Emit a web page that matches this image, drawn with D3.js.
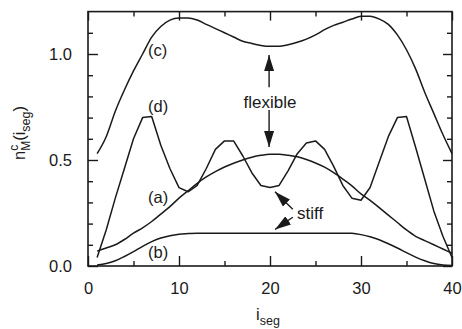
<!DOCTYPE html>
<html>
<head>
<meta charset="utf-8">
<script src="https://cdn.jsdelivr.net/npm/d3@7"></script>
<style>
  html, body { margin: 0; padding: 0; background: #fff; }
  svg { display: block; font-family: "Liberation Sans", Arial, Helvetica, sans-serif; }
  .tick text { font-size: 16.5px; fill: #1a1a1a; }
  .tick line { stroke: #1a1a1a; stroke-width: 1.4; }
</style>
</head>
<body>
<svg id="chart" width="462" height="329"></svg>
<script>
// Segment index along the chain
const iSeg = [1, 2, 3, 4, 5, 6, 7, 8, 9, 10,
              11, 12, 13, 14, 15, 16, 17, 18, 19, 20,
              21, 22, 23, 24, 25, 26, 27, 28, 29, 30,
              31, 32, 33, 34, 35, 36, 37, 38, 39, 40];

// (a) stiff chain
const curveA = [0.070, 0.085, 0.100, 0.125, 0.155, 0.180, 0.210, 0.245, 0.280, 0.320,
                0.355, 0.390, 0.420, 0.445, 0.467, 0.485, 0.500, 0.513, 0.522, 0.527,
                0.527, 0.522, 0.515, 0.502, 0.486, 0.466, 0.440, 0.410, 0.378, 0.340,
                0.310, 0.275, 0.240, 0.205, 0.170, 0.140, 0.120, 0.100, 0.080, 0.060];

// (b) stiff chain
const curveB = [0.005, 0.012, 0.025, 0.045, 0.068, 0.093, 0.115, 0.132, 0.143, 0.150,
                0.153, 0.155, 0.155, 0.155, 0.155, 0.155, 0.155, 0.155, 0.155, 0.155,
                0.155, 0.155, 0.155, 0.155, 0.155, 0.155, 0.155, 0.155, 0.154, 0.148,
                0.138, 0.124, 0.105, 0.085, 0.063, 0.042, 0.025, 0.012, 0.005, 0.002];

// (c) flexible chain
const curveC = [0.530, 0.610, 0.730, 0.830, 0.920, 1.000, 1.080, 1.130, 1.160, 1.170,
                1.170, 1.160, 1.140, 1.120, 1.100, 1.080, 1.060, 1.050, 1.040, 1.036,
                1.036, 1.044, 1.055, 1.070, 1.090, 1.115, 1.135, 1.150, 1.165, 1.178,
                1.178, 1.165, 1.140, 1.090, 1.020, 0.930, 0.820, 0.720, 0.620, 0.530];

// (d) flexible chain
const curveD = [0.040, 0.170, 0.320, 0.460, 0.600, 0.700, 0.705, 0.570, 0.460, 0.370,
                0.350, 0.380, 0.460, 0.550, 0.590, 0.590, 0.520, 0.440, 0.380, 0.370,
                0.380, 0.450, 0.530, 0.580, 0.590, 0.550, 0.470, 0.380, 0.320, 0.310,
                0.370, 0.490, 0.610, 0.700, 0.705, 0.560, 0.410, 0.260, 0.140, 0.040];

// Axis ticks
const xMajorTicks = [0, 10, 20, 30, 40];
const xMinorTicks = [5, 15, 25, 35];
const yMajorTicks = [0, 0.5, 1.0];
const yMinorTicks = [0.1, 0.2, 0.3, 0.4, 0.6, 0.7, 0.8, 0.9, 1.1];

const svg = d3.select("#chart");
const ink = "#1a1a1a";

const x = d3.scaleLinear().domain([0, 40]).range([88, 452]);
const y = d3.scaleLinear().domain([0, 1.2]).range([266, 11.6]);

const [x0, x1] = x.range();
const [y0, y1] = y.range();

// Axes with inward ticks on all four sides
function axisGroup(axis, tx, ty) {
  const g = svg.append("g").attr("transform", `translate(${tx},${ty})`).call(axis);
  g.select(".domain").remove();
  return g;
}
axisGroup(d3.axisBottom(x).tickValues(xMajorTicks).tickSize(-10).tickPadding(16)
  .tickFormat(d3.format("d")), 0, y0);
axisGroup(d3.axisBottom(x).tickValues(xMinorTicks).tickSize(-5).tickFormat(""), 0, y0);
axisGroup(d3.axisTop(x).tickValues(xMajorTicks).tickSize(-9).tickFormat(""), 0, y1);
axisGroup(d3.axisTop(x).tickValues(xMinorTicks).tickSize(-5).tickFormat(""), 0, y1);

axisGroup(d3.axisLeft(y).tickValues(yMajorTicks).tickSize(-10).tickPadding(16)
  .tickFormat(d3.format(".1f")), x0, 0);
axisGroup(d3.axisLeft(y).tickValues(yMinorTicks).tickSize(-5).tickFormat(""), x0, 0);
axisGroup(d3.axisRight(y).tickValues(yMajorTicks).tickSize(-9).tickFormat(""), x1, 0);
axisGroup(d3.axisRight(y).tickValues(yMinorTicks).tickSize(-5).tickFormat(""), x1, 0);

// Frame
svg.append("rect")
  .attr("x", x0).attr("y", y1)
  .attr("width", x1 - x0).attr("height", y0 - y1)
  .attr("fill", "none").attr("stroke", ink).attr("stroke-width", 1.6);

// Curves
const smooth = d3.line().x((d, i) => x(iSeg[i])).y(d => y(d)).curve(d3.curveMonotoneX);
const polyline = d3.line().x((d, i) => x(iSeg[i])).y(d => y(d)).curve(d3.curveLinear);

[[curveA, smooth], [curveB, smooth], [curveC, smooth], [curveD, polyline]].forEach(([data, gen]) => {
  svg.append("path")
    .attr("d", gen(data))
    .attr("fill", "none")
    .attr("stroke", ink)
    .attr("stroke-width", 1.5)
    .attr("stroke-linejoin", "round");
});

// Curve labels
const curveLabels = [
  { text: "(c)", i: 6.6, v: 0.99 },
  { text: "(d)", i: 6.6, v: 0.727 },
  { text: "(a)", i: 6.6, v: 0.295 },
  { text: "(b)", i: 6.6, v: 0.036 }
];
svg.append("g").selectAll("text").data(curveLabels).join("text")
  .attr("x", d => x(d.i)).attr("y", d => y(d.v))
  .attr("font-size", 16.5).attr("fill", ink)
  .text(d => d.text);

// Arrowhead marker
svg.append("defs").append("marker")
  .attr("id", "head")
  .attr("viewBox", "0 0 16 10")
  .attr("refX", 16).attr("refY", 5)
  .attr("markerWidth", 16).attr("markerHeight", 10)
  .attr("markerUnits", "userSpaceOnUse")
  .attr("orient", "auto")
  .append("path").attr("d", "M0,0 L16,5 L0,10 Z").attr("fill", ink);

const arrows = [
  // "flexible"
  { i0: 19.9, v0: 0.843, i1: 19.9, v1: 0.995 },
  { i0: 19.9, v0: 0.736, i1: 19.9, v1: 0.561 },
  // "stiff"
  { i0: 22.5, v0: 0.268, i1: 20.55, v1: 0.350 },
  { i0: 22.5, v0: 0.230, i1: 20.55, v1: 0.172 }
];
svg.append("g").selectAll("line").data(arrows).join("line")
  .attr("x1", d => x(d.i0)).attr("y1", d => y(d.v0))
  .attr("x2", d => x(d.i1)).attr("y2", d => y(d.v1))
  .attr("stroke", ink).attr("stroke-width", 1.4)
  .attr("marker-end", "url(#head)");

svg.append("text")
  .attr("x", x(20.0)).attr("y", y(0.745))
  .attr("text-anchor", "middle").attr("font-size", 17).attr("fill", ink)
  .text("flexible");

svg.append("text")
  .attr("x", 297).attr("y", y(0.22))
  .attr("font-size", 17).attr("fill", ink)
  .text("stiff");

// X axis title: i_seg
const xt = svg.append("text")
  .attr("x", 268).attr("y", 320)
  .attr("text-anchor", "middle").attr("font-size", 16.5).attr("fill", ink);
xt.append("tspan").text("i");
xt.append("tspan").attr("font-size", 12.5).attr("dy", 5).text("seg");

// Y axis title: n^c_M(i_seg)
const yt = svg.append("text")
  .attr("transform", "translate(25,133) rotate(-90)")
  .attr("text-anchor", "middle").attr("font-size", 16.5).attr("fill", ink);
yt.append("tspan").text("n");
yt.append("tspan").attr("font-size", 12).attr("dy", -7).text("c");
yt.append("tspan").attr("font-size", 12).attr("dx", -6).attr("dy", 12).text("M");
yt.append("tspan").attr("dy", -5).text("(i");
yt.append("tspan").attr("font-size", 12.5).attr("dy", 5).text("seg");
yt.append("tspan").attr("dy", -5).text(")");
</script>
</body>
</html>
